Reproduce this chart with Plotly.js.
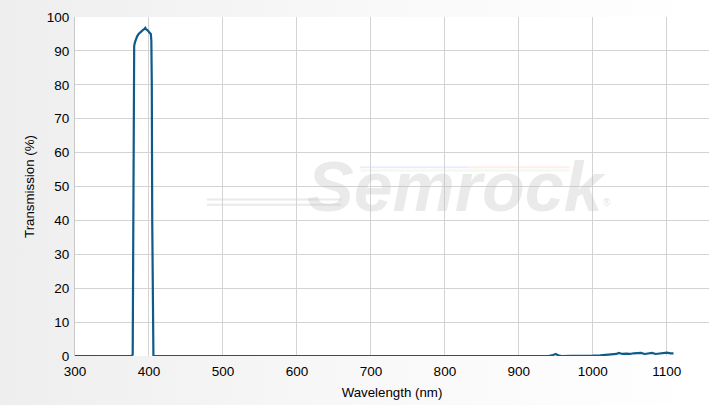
<!DOCTYPE html>
<html>
<head>
<meta charset="utf-8">
<script src="https://cdn.plot.ly/plotly-3.0.1.min.js"></script>
<style>
html,body{margin:0;padding:0;}
body{width:709px;height:405px;background:linear-gradient(to right,#eeeeee 0%,#f8f8f8 50%,#ffffff 100%);}
#chart{width:709px;height:405px;}
</style>
</head>
<body>
<div id="chart"></div>
<script>
// Wavelength (nm)
const wavelength = [300, 350, 377, 378, 378.5, 379, 380, 381, 382.5, 384, 386, 388, 390, 392, 393.5, 395, 396, 397, 398.5, 400, 401.5, 402.5, 403.2, 403.8, 404.4, 405, 406, 450, 600, 800, 940, 946, 950, 953, 958, 970, 985, 990, 1000, 1010, 1020, 1028, 1032, 1035, 1040, 1045, 1050, 1055, 1060, 1065, 1070, 1075, 1080, 1085, 1090, 1095, 1100, 1105, 1109];
// Transmission (%)
const transmission = [0, 0, 0, 0.5, 40, 88, 91.5, 92.5, 93.5, 94.3, 95, 95.5, 95.9, 96.2, 96.4, 96.8, 96.4, 96.3, 96, 95.6, 95.3, 95, 93, 80, 40, 1, 0, 0, 0, 0, 0, 0.3, 0.6, 0.2, 0, 0.05, 0, 0.15, 0.1, 0.2, 0.3, 0.5, 0.6, 0.9, 0.6, 0.7, 0.6, 0.8, 0.8, 0.9, 0.6, 0.7, 0.9, 0.6, 0.7, 0.9, 1.0, 0.8, 0.8];

const xTicks = [300, 400, 500, 600, 700, 800, 900, 1000, 1100];
const yTicks = [0, 10, 20, 30, 40, 50, 60, 70, 80, 90, 100];

const trace = {
  x: wavelength, y: transmission, type: 'scatter', mode: 'lines',
  line: {color: '#0e5a8a', width: 2.2, shape: 'linear'},
  hoverinfo: 'x+y'
};

const wm = 'rgba(190,190,190,0.33)';
const layout = {
  width: 709, height: 405,
  margin: {l: 75, r: 0, t: 17, b: 49},
  paper_bgcolor: 'rgba(0,0,0,0)',
  plot_bgcolor: '#ffffff',
  font: {family: 'Liberation Sans, Arial, sans-serif', size: 13, color: '#000'},
  showlegend: false,
  xaxis: {
    range: [300, 1157], tickvals: xTicks, ticktext: xTicks.map(String),
    showgrid: true, gridcolor: '#d3d3d3', gridwidth: 1,
    zeroline: false, showline: false, ticks: '', ticklabelstandoff: 5,
    tickfont: {size: 13.5, color: '#000'},
    title: {text: 'Wavelength (nm)', font: {size: 13.3, color: '#000'}, standoff: 10}
  },
  yaxis: {
    range: [0, 100], tickvals: yTicks, ticktext: yTicks.map(String),
    showgrid: true, gridcolor: '#d3d3d3', gridwidth: 1,
    zeroline: false, showline: true, linecolor: '#c8c8c8', linewidth: 1, ticks: '', ticklabelstandoff: 2,
    tickfont: {size: 13.5, color: '#000'},
    title: {text: 'Transmission (%)', font: {size: 13.3, color: '#000'}, standoff: 9}
  },
  shapes: [
    {type: 'line', layer: 'below', xref: 'paper', yref: 'paper', x0: 0.208, x1: 0.42, y0: 0.462, y1: 0.462, line: {color: wm, width: 2}},
    {type: 'line', layer: 'below', xref: 'paper', yref: 'paper', x0: 0.208, x1: 0.42, y0: 0.446, y1: 0.446, line: {color: wm, width: 2}},
    {type: 'line', layer: 'below', xref: 'paper', yref: 'paper', x0: 0.45, x1: 0.62, y0: 0.557, y1: 0.557, line: {color: 'rgba(200,200,255,0.35)', width: 2}},
    {type: 'line', layer: 'below', xref: 'paper', yref: 'paper', x0: 0.62, x1: 0.78, y0: 0.557, y1: 0.557, line: {color: 'rgba(255,200,200,0.35)', width: 2}},
    {type: 'line', layer: 'below', xref: 'paper', yref: 'paper', x0: 0.45, x1: 0.78, y0: 0.547, y1: 0.547, line: {color: 'rgba(210,240,200,0.35)', width: 2}}
  ],
  annotations: [
    {xref: 'paper', yref: 'paper', x: 0.601, y: 0.50, xanchor: 'center', yanchor: 'middle',
     text: '<b><i>Semrock</i></b>', showarrow: false,
     font: {family: 'Liberation Sans, Arial, sans-serif', size: 70, color: wm}},
    {xref: 'paper', yref: 'paper', x: 0.83, y: 0.452, xanchor: 'left', yanchor: 'middle',
     text: '®', showarrow: false, font: {size: 10, color: 'rgba(190,190,190,0.45)'}}
  ]
};

Plotly.newPlot('chart', [trace], layout, {displayModeBar: false, staticPlot: true});
</script>
</body>
</html>
